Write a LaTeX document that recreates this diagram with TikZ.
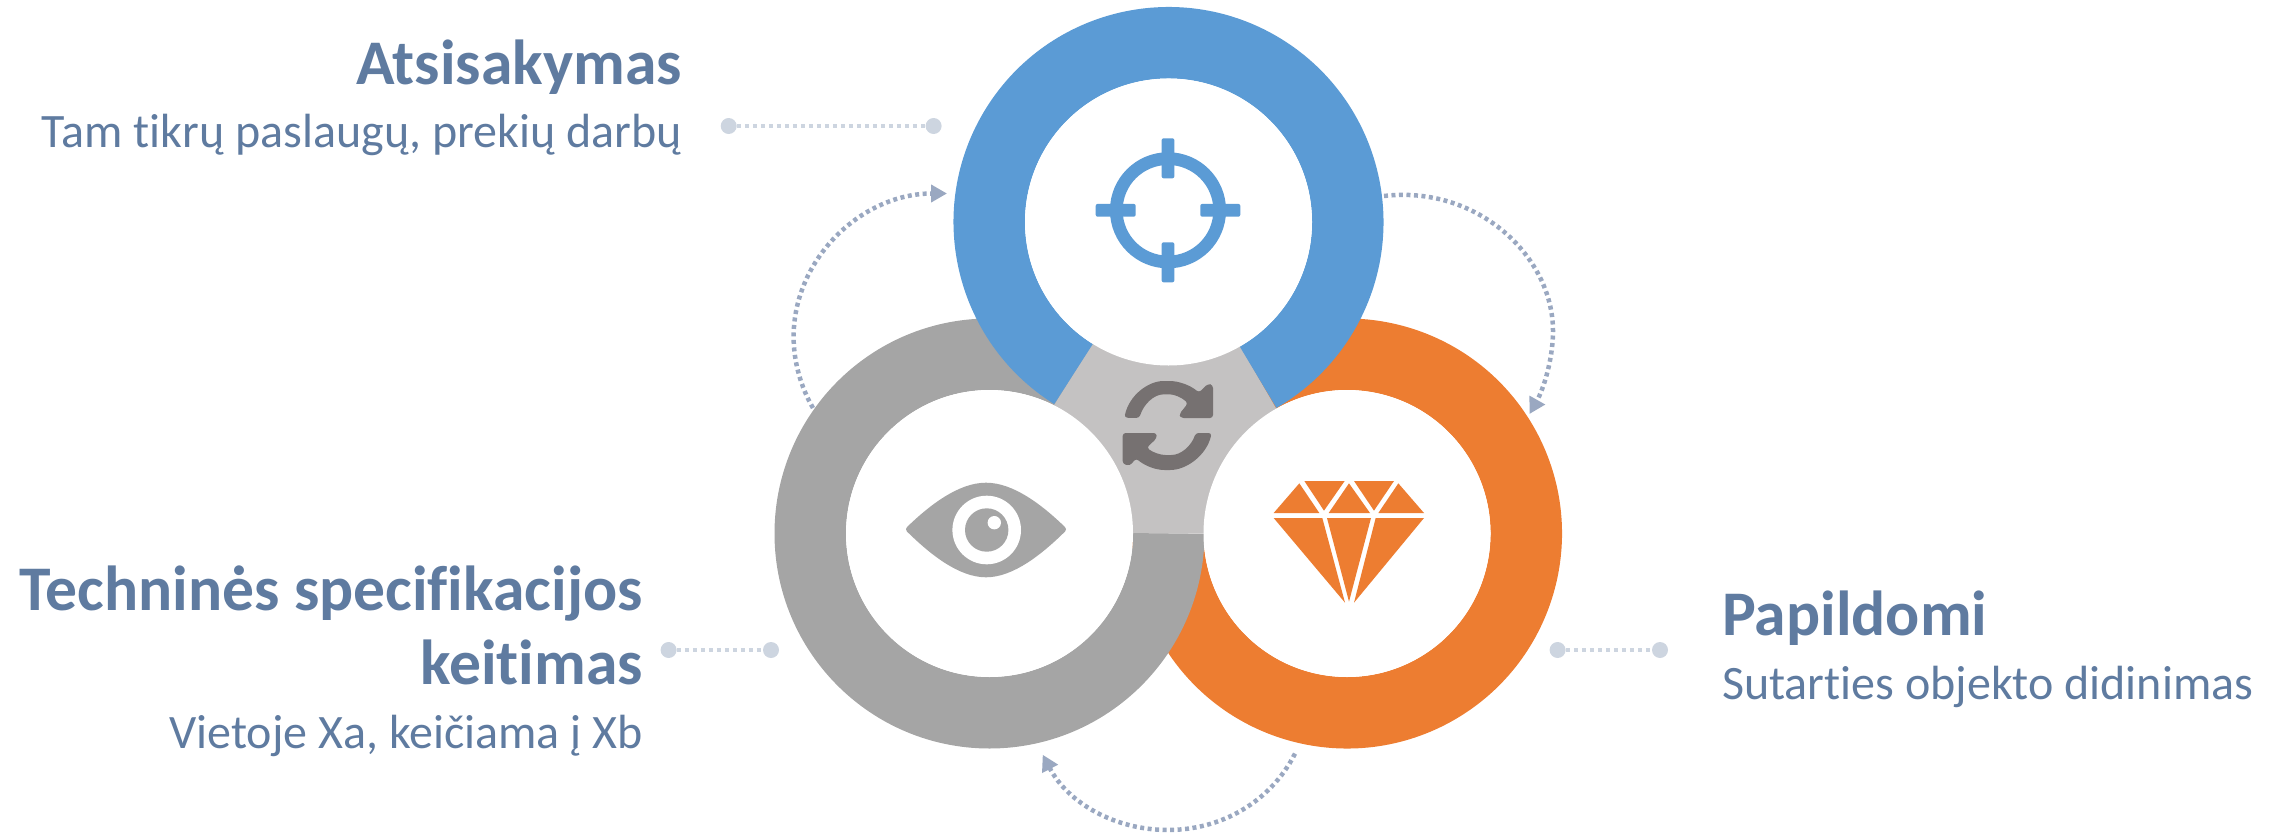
\documentclass[tikz,border=0pt]{standalone}
\usepackage{fontspec}
\setmainfont{Carlito}[RawFeature={-liga;-clig;-dlig}]
\usetikzlibrary{arrows.meta,calc}
\definecolor{cblue}{HTML}{5B9BD5}
\definecolor{corange}{HTML}{ED7D31}
\definecolor{cgray}{HTML}{A5A5A5}
\definecolor{clight}{HTML}{C4C2C2}
\definecolor{cdark}{HTML}{767171}
\definecolor{ctext}{HTML}{5F7BA0}
\definecolor{cdot}{HTML}{CDD5E0}
\definecolor{ccurve}{HTML}{9AA8C1}
\tikzset{
  ring/.style={line width=71.5pt},
  hole/.style={fill=white,draw=none},
  ttl/.style={inner sep=0pt,text=ctext,font=\bfseries\fontsize{63.6}{64}\selectfont},
  sub/.style={inner sep=0pt,text=ctext,font=\fontsize{48}{48}\selectfont},
  enddot/.style={circle,fill=cdot,inner sep=0pt,minimum width=16pt},
  leader/.style={draw=cdot,line width=4pt,dash pattern=on 4pt off 4pt},
  cycle arrow/.style={draw=ccurve,line width=4.5pt,dash pattern=on 4pt off 3.5pt,-{Triangle[length=16pt,width=17pt,fill=ccurve]}},
}
\begin{document}
\begin{tikzpicture}[x=1pt,y=-1pt]
\useasboundingbox (0,0) rectangle (2279,835);
\coordinate (B) at (1168.5,222);
\coordinate (G) at (989.5,533.5);
\coordinate (O) at (1347,533.5);
% centre
\fill[clight] (B) -- (G) -- (O) -- cycle;
% rings
\draw[ring,corange] ($(O)+(120:179.25pt)$) arc[start angle=120,end angle=-178,radius=179.25pt];
\draw[ring,cgray] ($(G)+(0:179.25pt)$) arc[start angle=0,end angle=-300,radius=179.25pt];
\fill[clight] (B) -- ($(B)+(-122:250pt)$) -- ($(B)+(-60:250pt)$) -- cycle;
\draw[ring,cblue] ($(B)+(-122:179.25pt)$) arc[start angle=-122,end angle=-420,radius=179.25pt];
\fill[hole] (O) circle[radius=143.5pt];
\fill[hole] (G) circle[radius=143.5pt];
\fill[hole] (B) circle[radius=143.5pt];
% target icon
\coordinate (T) at (1168,210.3);
\draw[cblue,line width=12.7pt] (T) circle[radius=51.7pt];
\fill[cblue,rounded corners=2pt] (1161.6,138.3) rectangle (1174.4,178.3);
\fill[cblue,rounded corners=2pt] (1161.6,242.3) rectangle (1174.4,282.3);
\fill[cblue,rounded corners=2pt] (1095.7,203.9) rectangle (1135.7,216.7);
\fill[cblue,rounded corners=2pt] (1200.3,203.9) rectangle (1240.3,216.7);
% eye icon
\filldraw[cgray,line width=6pt,line join=round]
  (909,529.3) .. controls (932,507) and (960,485.7) .. (986,485.7)
  .. controls (1012,485.7) and (1040,507) .. (1063,529.3)
  .. controls (1040,552) and (1012,574.3) .. (986,574.3)
  .. controls (960,574.3) and (932,552) .. (909,529.3) -- cycle;
\fill[white] (986.7,530) circle[radius=34.3pt];
\fill[cgray] (986.7,530) circle[radius=21.7pt];
\fill[white] (994.3,522.7) circle[radius=6.7pt];
% diamond icon
\begin{scope}[shift={(1050,340)},x=0.33333pt,y=-0.33333pt]
\fill[corange] (671,519) -- (748,430) -- (808,519) -- cycle;
\fill[corange] (763,423) -- (884,423) -- (822,512) -- cycle;
\fill[corange] (897,430) -- (960,519) -- (836,519) -- cycle;
\fill[corange] (912,423) -- (1032,423) -- (972,512) -- cycle;
\fill[corange] (1045,430) -- (1122,519) -- (985,519) -- cycle;
\fill[corange] (671,534) -- (817,534) -- (885,788) -- cycle;
\fill[corange] (831,534) -- (963,534) -- (897,785) -- cycle;
\fill[corange] (977,534) -- (1122,534) -- (912,788) -- cycle;
% refresh icon
\fill[cdark,rounded corners=3pt] (223,233) .. controls (238,165) and (295,123) .. (350,123)
  .. controls (385,123) and (420,135) .. (447,158) -- (474,131) -- (489,135) -- (489,234)
  -- (392,234) -- (388,222) -- (414,190) .. controls (395,172) and (372,163) .. (350,163)
  .. controls (310,163) and (280,195) .. (268,234) -- cycle;
\fill[cdark,rounded corners=3pt] (485,279) .. controls (470,345) and (410,390) .. (352,390)
  .. controls (318,390) and (285,378) .. (258,355) -- (240,377) -- (218,372) -- (218,279)
  -- (320,279) -- (320,295) -- (290,323) .. controls (310,338) and (332,345) .. (355,345)
  .. controls (395,345) and (425,315) .. (437,279) -- cycle;
\end{scope}
% leaders
\node[enddot] (d1a) at (728.7,126) {};
\node[enddot] (d1b) at (933.6,126) {};
\draw[leader] (d1a) -- (d1b);
\node[enddot] (d2a) at (668.6,650) {};
\node[enddot] (d2b) at (771,650) {};
\draw[leader] (d2a) -- (d2b);
\node[enddot] (d3a) at (1557.6,650) {};
\node[enddot] (d3b) at (1660,650) {};
\draw[leader] (d3a) -- (d3b);
% cycle arrows
\coordinate (La) at (813,408);
\coordinate (Lb) at (793.6,337);
\coordinate (Lc) at (947,193.5);
\draw[cycle arrow] (La) .. controls (800.6,386.8) and (793.6,361) .. (Lb)
  .. controls (793.6,257.7) and (862.5,193.5) .. (Lc);
\coordinate (Ra) at (1384,196);
\coordinate (Rb) at (1553,331);
\coordinate (Rc) at (1529.5,414);
\draw[cycle arrow] (Ra) .. controls (1477,185) and (1553,256) .. (Rb)
  .. controls (1553,360) and (1543,390) .. (Rc);
\coordinate (Ba) at (1295,753.6);
\coordinate (Bb) at (1168,830);
\coordinate (Bc) at (1042.7,754.7);
\draw[cycle arrow] (Ba) .. controls (1270,803) and (1220,830) .. (Bb)
  .. controls (1115,830) and (1068,803) .. (Bc);
% labels
\node[ttl,anchor=base east] (t1) at (682,84) {Atsisakymas};
\node[sub,anchor=base east] (s1) at (682,147) {Tam tikrų paslaugų, prekių darbų};
\node[ttl,anchor=base east] (t2) at (643,610) {Techninės specifikacijos};
\node[ttl,anchor=base east] (t3) at (643,684) {keitimas};
\node[sub,anchor=base east] (s2) at (643,748) {Vietoje Xa, keičiama į Xb};
\node[ttl,anchor=base west] (t4) at (1722,635) {Papildomi};
\node[sub,anchor=base west] (s3) at (1722,699) {Sutarties objekto didinimas};
\end{tikzpicture}
\end{document}
